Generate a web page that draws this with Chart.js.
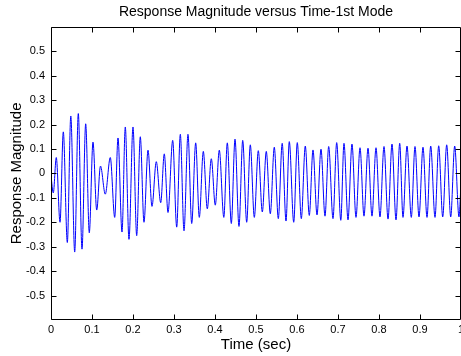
<!DOCTYPE html>
<html>
<head>
<meta charset="utf-8">
<script src="https://cdn.jsdelivr.net/npm/chart.js@4.4.0/dist/chart.umd.min.js"></script>
<style>
    html, body { margin: 0; padding: 0; background: #fff; }
</style>
</head>
<body>
<canvas id="responseChart" width="461" height="356"></canvas>
<script>
// peaks and troughs of the 1st mode response
const responseTimes = [0, 0.0056, 0.0129, 0.0220, 0.0300, 0.0398, 0.0483, 0.0578, 0.0666, 0.0756,
    0.0846, 0.0934, 0.1024, 0.1115, 0.1207, 0.1324, 0.1446, 0.1554, 0.1634, 0.1732,
    0.1812, 0.1902, 0.2000, 0.2090, 0.2178, 0.2268, 0.2366, 0.2463, 0.2568, 0.2676,
    0.2763, 0.2854, 0.2968, 0.3066, 0.3154, 0.3244, 0.3341, 0.3432, 0.3529, 0.3617,
    0.3715, 0.3812, 0.3910, 0.4007, 0.4105, 0.4215, 0.4300, 0.4398, 0.4488, 0.4585,
    0.4676, 0.4773, 0.4861, 0.4959, 0.5056, 0.5154, 0.5251, 0.5349, 0.5446, 0.5544,
    0.5639, 0.5732, 0.5812, 0.5920, 0.6007, 0.6105, 0.6202, 0.6300, 0.6390, 0.6488,
    0.6585, 0.6683, 0.6773, 0.6878, 0.6968, 0.7068, 0.7146, 0.7244, 0.7341, 0.7439,
    0.7537, 0.7634, 0.7732, 0.7829, 0.7927, 0.8024, 0.8122, 0.8220, 0.8317, 0.8415,
    0.8505, 0.8585, 0.8683, 0.8788, 0.8878, 0.8976, 0.9073, 0.9171, 0.9261, 0.9366,
    0.9456, 0.9554, 0.9651, 0.9749, 0.9846, 0.9951, 1.0];

const responseValues = [-0.01, -0.08, 0.065, -0.2, 0.17, -0.283, 0.235, -0.322, 0.245, -0.31,
    0.203, -0.243, 0.128, -0.15, 0.03, -0.085, 0.065, -0.18, 0.145, -0.24,
    0.19, -0.27, 0.19, -0.255, 0.15, -0.2, 0.095, -0.135, 0.048, -0.12,
    0.08, -0.16, 0.135, -0.22, 0.16, -0.235, 0.16, -0.205, 0.125, -0.18,
    0.09, -0.145, 0.06, -0.13, 0.095, -0.18, 0.125, -0.205, 0.14, -0.217,
    0.135, -0.2, 0.117, -0.18, 0.093, -0.158, 0.09, -0.165, 0.107, -0.185,
    0.123, -0.195, 0.13, -0.2, 0.126, -0.185, 0.112, -0.172, 0.096, -0.17,
    0.099, -0.175, 0.11, -0.185, 0.126, -0.192, 0.123, -0.19, 0.12, -0.18,
    0.105, -0.175, 0.103, -0.175, 0.105, -0.178, 0.11, -0.187, 0.12, -0.19,
    0.123, -0.18, 0.112, -0.18, 0.11, -0.178, 0.107, -0.18, 0.112, -0.18,
    0.113, -0.178, 0.117, -0.178, 0.112, -0.178, -0.04];

const xTicks = [0, 0.1, 0.2, 0.3, 0.4, 0.5, 0.6, 0.7, 0.8, 0.9, 1];
const yTicks = [-0.5, -0.4, -0.3, -0.2, -0.1, 0, 0.1, 0.2, 0.3, 0.4, 0.5];

const fontFamily = '"Liberation Sans", Arial, Helvetica, sans-serif';

function tickLabel(v){
    return String(Math.round(v * 10) / 10);
}

// MATLAB style box with ticks pointing inward
const boxTicks = {
    id: 'boxTicks',
    afterDraw(chart){
        const {ctx, chartArea, scales} = chart;
        const left = Math.round(chartArea.left) + 0.5;
        const right = Math.round(chartArea.right) - 0.5;
        const top = Math.round(chartArea.top) + 0.5;
        const bottom = Math.round(chartArea.bottom) - 0.5;
        const len = 5;

        ctx.save();
        ctx.strokeStyle = '#000';
        ctx.lineWidth = 1;
        ctx.beginPath();
        ctx.rect(left, top, right - left, bottom - top);

        for(const v of xTicks){
            const px = Math.round(scales.x.getPixelForValue(v)) + 0.5;
            ctx.moveTo(px, bottom);
            ctx.lineTo(px, bottom - len);
            ctx.moveTo(px, top);
            ctx.lineTo(px, top + len);
        }
        for(const v of yTicks){
            const py = Math.round(scales.y.getPixelForValue(v)) + 0.5;
            ctx.moveTo(left, py);
            ctx.lineTo(left + len, py);
            ctx.moveTo(right, py);
            ctx.lineTo(right - len, py);
        }
        ctx.stroke();
        ctx.restore();
    }
};

const points = responseTimes.map((t, i) => ({x: t, y: responseValues[i]}));

new Chart(document.getElementById('responseChart'), {
    type: 'line',
    data: {
        datasets: [{
            data: points,
            borderColor: '#0000ff',
            borderWidth: 1,
            pointRadius: 0,
            fill: false,
            cubicInterpolationMode: 'monotone'
        }]
    },
    options: {
        responsive: false,
        animation: false,
        layout: {padding: {left: 0, right: 0, top: 0, bottom: 0}},
        plugins: {
            legend: {display: false},
            tooltip: {enabled: false},
            title: {
                display: true,
                text: 'Response Magnitude versus Time-1st Mode',
                fullSize: false,
                color: '#000',
                font: {family: fontFamily, size: 14, weight: 'normal'},
                padding: {top: 4, bottom: 6}
            }
        },
        scales: {
            x: {
                type: 'linear',
                min: 0,
                max: 1,
                afterBuildTicks: scale => { scale.ticks = xTicks.map(v => ({value: v})); },
                afterFit: scale => {
                    scale.height = 36;
                    scale.paddingLeft = 0;
                    scale.paddingRight = 0;
                },
                grid: {display: false, drawTicks: false},
                border: {display: false},
                ticks: {
                    autoSkip: false,
                    maxRotation: 0,
                    padding: 3,
                    color: '#000',
                    font: {family: fontFamily, size: 11},
                    callback: v => tickLabel(v)
                },
                title: {
                    display: true,
                    text: 'Time (sec)',
                    color: '#000',
                    font: {family: fontFamily, size: 15},
                    padding: {top: 0, bottom: 2}
                }
            },
            y: {
                type: 'linear',
                min: -0.6,
                max: 0.6,
                afterBuildTicks: scale => { scale.ticks = yTicks.map(v => ({value: v})); },
                afterFit: scale => {
                    scale.width = 51;
                    scale.paddingTop = 0;
                    scale.paddingBottom = 0;
                },
                grid: {display: false, drawTicks: false},
                border: {display: false},
                ticks: {
                    padding: 6,
                    color: '#000',
                    font: {family: fontFamily, size: 11},
                    callback: v => tickLabel(v)
                },
                title: {
                    display: true,
                    text: 'Response Magnitude',
                    color: '#000',
                    font: {family: fontFamily, size: 15},
                    padding: {top: 8, bottom: 0}
                }
            }
        }
    },
    plugins: [boxTicks]
});
</script>
</body>
</html>
